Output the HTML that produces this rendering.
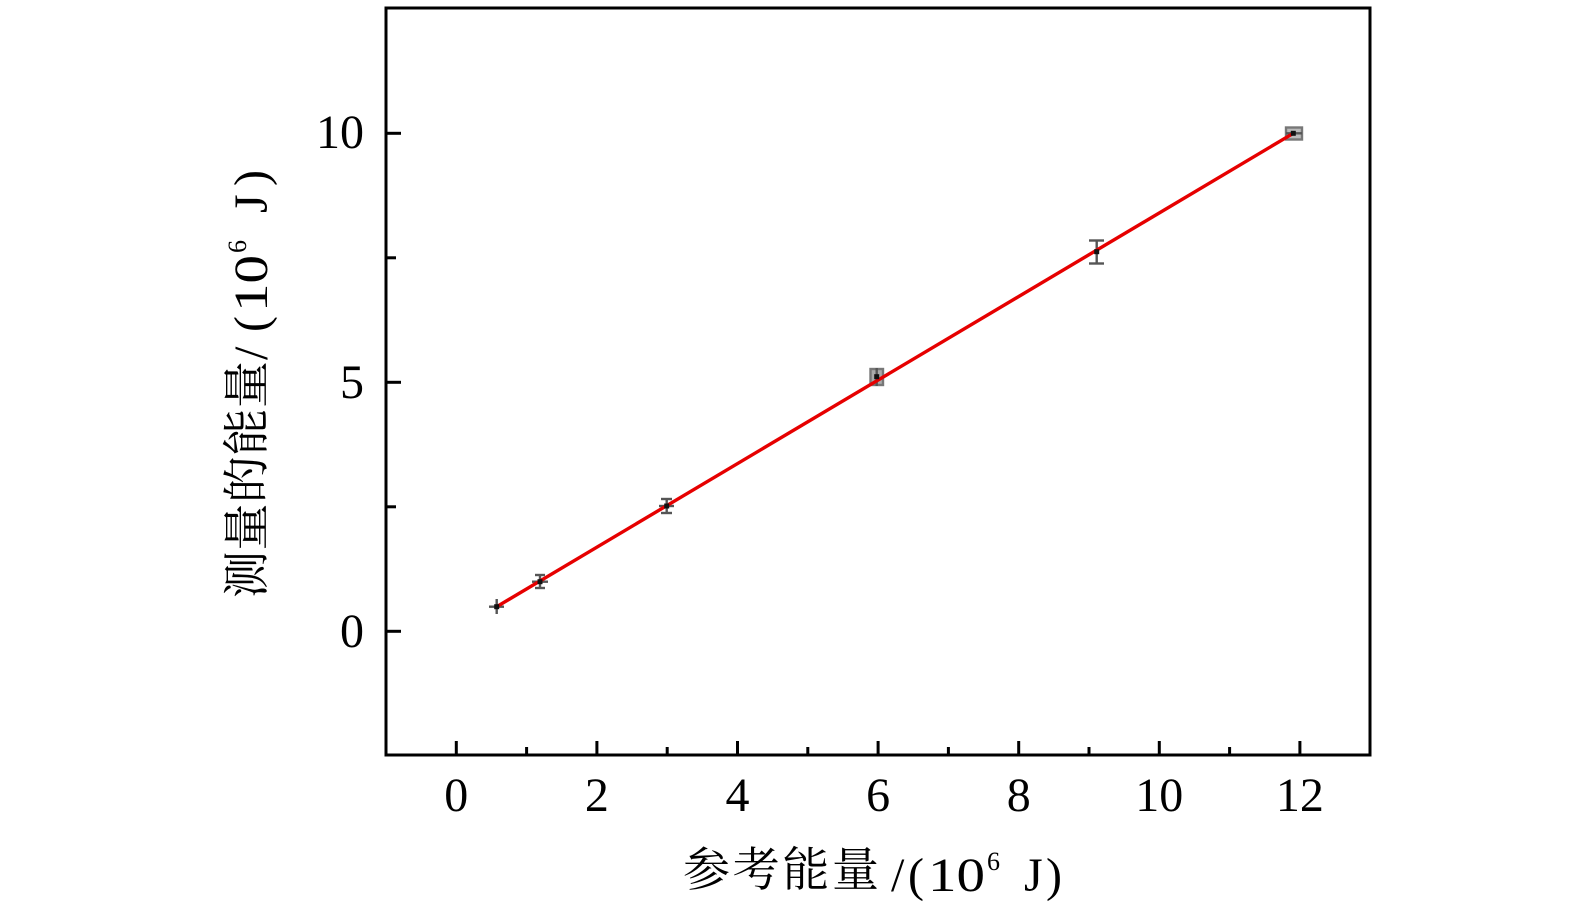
<!DOCTYPE html>
<html>
<head>
<meta charset="utf-8">
<style>
html,body{margin:0;padding:0;background:#fff;}
svg{display:block;}
.t{font-family:"Liberation Serif","Noto Serif CJK SC",serif;fill:#000;}
</style>
</head>
<body>
<svg width="1575" height="906" viewBox="0 0 1575 906" xmlns="http://www.w3.org/2000/svg">
<rect width="1575" height="906" fill="#fff"/>

<!-- error bars -->
<g stroke="#555" stroke-width="2.4" fill="none">
  <!-- P1 -->
  <line x1="496.7" y1="599" x2="496.7" y2="614"/>
  <line x1="489" y1="606.7" x2="504" y2="606.7"/>
  <!-- P2 -->
  <line x1="540" y1="574" x2="540" y2="589"/>
  <line x1="532" y1="581.7" x2="548" y2="581.7"/>
  <line x1="535" y1="575" x2="545" y2="575"/>
  <line x1="535" y1="588" x2="545" y2="588"/>
  <!-- P3 -->
  <line x1="666.7" y1="498" x2="666.7" y2="514"/>
  <line x1="659" y1="506" x2="674" y2="506"/>
  <line x1="661" y1="499" x2="672" y2="499"/>
  <line x1="661" y1="513" x2="672" y2="513"/>
  <!-- P4 -->
  <rect x="870.5" y="369" width="12.5" height="16" fill="#aaa" stroke="#777"/>
  <line x1="876.7" y1="368" x2="876.7" y2="386"/>
  <!-- P5 -->
  <line x1="1096.7" y1="240" x2="1096.7" y2="264"/>
  <line x1="1089" y1="240.5" x2="1104" y2="240.5"/>
  <line x1="1089" y1="263.5" x2="1104" y2="263.5"/>
  <!-- P6 -->
  <rect x="1286" y="127.5" width="16" height="12" fill="#bbb" stroke="#777"/>
  <line x1="1286" y1="133.3" x2="1302" y2="133.3"/>
</g>

<!-- fit line -->
<line x1="496.7" y1="606.7" x2="1293.3" y2="133.3" stroke="#e60000" stroke-width="3.4"/>

<!-- markers -->
<g fill="#111">
  <rect x="494.2" y="604.2" width="5" height="5"/>
  <rect x="537.5" y="579.2" width="5" height="5"/>
  <rect x="664.2" y="503.5" width="5" height="5"/>
  <rect x="874.2" y="374.2" width="5" height="5"/>
  <rect x="1094.2" y="249.2" width="5" height="5"/>
  <rect x="1290.8" y="130.8" width="5" height="5"/>
</g>

<!-- frame -->
<rect x="386" y="8" width="984" height="747" fill="none" stroke="#000" stroke-width="3"/>

<!-- x ticks -->
<g stroke="#000" stroke-width="3">
  <line x1="456.3" y1="755" x2="456.3" y2="741"/>
  <line x1="596.9" y1="755" x2="596.9" y2="741"/>
  <line x1="737.5" y1="755" x2="737.5" y2="741"/>
  <line x1="878.1" y1="755" x2="878.1" y2="741"/>
  <line x1="1018.7" y1="755" x2="1018.7" y2="741"/>
  <line x1="1159.3" y1="755" x2="1159.3" y2="741"/>
  <line x1="1299.9" y1="755" x2="1299.9" y2="741"/>
  <line x1="526.6" y1="755" x2="526.6" y2="747"/>
  <line x1="667.2" y1="755" x2="667.2" y2="747"/>
  <line x1="807.8" y1="755" x2="807.8" y2="747"/>
  <line x1="948.4" y1="755" x2="948.4" y2="747"/>
  <line x1="1089" y1="755" x2="1089" y2="747"/>
  <line x1="1229.6" y1="755" x2="1229.6" y2="747"/>
  <!-- y ticks -->
  <line x1="386" y1="631.3" x2="401" y2="631.3"/>
  <line x1="386" y1="382.3" x2="401" y2="382.3"/>
  <line x1="386" y1="133.3" x2="401" y2="133.3"/>
  <line x1="386" y1="506.8" x2="396" y2="506.8"/>
  <line x1="386" y1="257.8" x2="396" y2="257.8"/>
</g>

<!-- x tick labels -->
<g class="t" font-size="48" text-anchor="middle">
  <text x="456.3" y="811">0</text>
  <text x="596.9" y="811">2</text>
  <text x="737.5" y="811">4</text>
  <text x="878.1" y="811">6</text>
  <text x="1018.7" y="811">8</text>
  <text x="1159.3" y="811">10</text>
  <text x="1299.9" y="811">12</text>
</g>

<!-- y tick labels -->
<g class="t" font-size="48" text-anchor="end">
  <text x="364" y="647">0</text>
  <text x="364" y="398">5</text>
  <text x="364" y="148">10</text>
</g>

<!-- x axis label -->
<g class="t">
  <text x="683" y="886" font-size="47" textLength="196" lengthAdjust="spacing">参考能量</text>
  <text x="891" y="891" font-size="48">/</text>
  <text x="908" y="891" font-size="48">(</text>
  <text x="928" y="891" font-size="48" textLength="57" lengthAdjust="spacingAndGlyphs">10</text>
  <text x="987" y="870" font-size="26">6</text>
  <text x="1024" y="891" font-size="48">J</text>
  <text x="1046" y="891" font-size="48">)</text>
</g>

<!-- y axis label -->
<g class="t" transform="translate(267,384) rotate(-90)">
  <text x="-214" y="-4" font-size="47" textLength="237" lengthAdjust="spacing">测量的能量</text>
  <text x="24" y="0" font-size="48">/</text>
  <text x="52" y="0" font-size="48">(</text>
  <text x="72" y="0" font-size="48" textLength="57" lengthAdjust="spacingAndGlyphs">10</text>
  <text x="131" y="-21" font-size="26">6</text>
  <text x="171" y="0" font-size="48">J</text>
  <text x="198" y="0" font-size="48">)</text>
</g>
</svg>
</body>
</html>
